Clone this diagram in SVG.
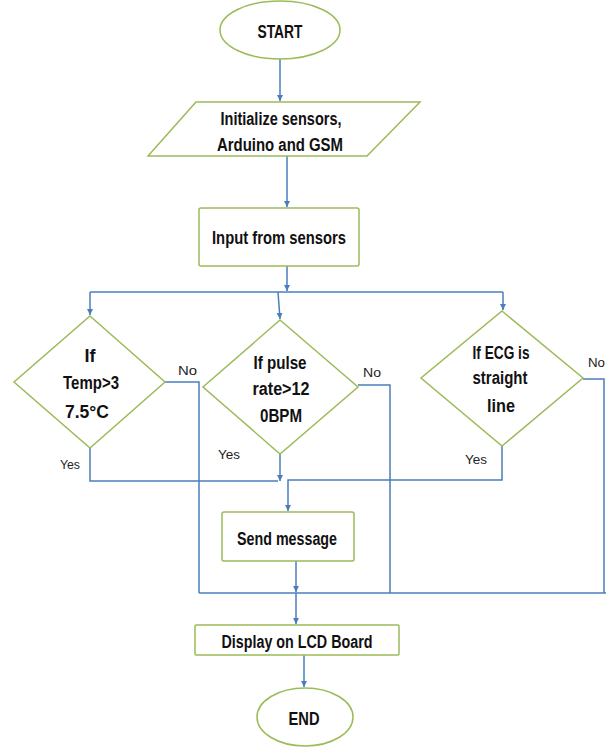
<svg xmlns="http://www.w3.org/2000/svg" width="606" height="747" viewBox="0 0 606 747">
<defs>
<marker id="ah" markerWidth="7" markerHeight="7" refX="6" refY="3.5" orient="auto" markerUnits="userSpaceOnUse">
<path d="M0,0.5 L6,3.5 L0,6.5 z" fill="#4a7ebb"/>
</marker>
<style>
.shape{fill:#fff;stroke:#9bbb59;stroke-width:1.5}
.t{font-family:"Liberation Sans",Arial,sans-serif;font-weight:bold;font-size:18px;fill:#111;text-anchor:middle}
.l{font-family:"Liberation Sans",Arial,sans-serif;font-size:12px;fill:#222;text-anchor:start}
.c{fill:none;stroke:#4a7ebb;stroke-width:1.5}
.a{marker-end:url(#ah)}
</style>
</defs>
<rect width="606" height="747" fill="#fff"/>
<g id="connectors">
<path class="c a" d="M280,59 V101"/>
<path class="c a" d="M287,156 V207"/>
<path class="c a" d="M287,266 V291"/>
<path class="c" d="M90,292 H503"/>
<path class="c a" d="M90,292 V315"/>
<path class="c a" d="M278,292 L280,319"/>
<path class="c a" d="M503,292 V310"/>
<path class="c" d="M165,382 H199 V593"/>
<path class="c" d="M358,385 H390 V593"/>
<path class="c" d="M583,379 H604 V593"/>
<path class="c" d="M199,593 H606"/>
<path class="c" d="M90,448 V481 H278"/>
<path class="c a" d="M280,454 V481"/>
<path class="c a" d="M502,446 V480 H288 V511"/>
<path class="c a" d="M296,561 V592"/>
<path class="c a" d="M296,593 V624"/>
<path class="c a" d="M304,655 V687"/>
</g>
<g id="start">
<ellipse class="shape" cx="280" cy="30" rx="60" ry="29"/>
<text class="t" x="280" y="38" textLength="45" lengthAdjust="spacingAndGlyphs">START</text>
</g>
<g id="init">
<polygon class="shape" points="196,102 420,102 367,156 148,156"/>
<text class="t" x="281" y="125" textLength="121" lengthAdjust="spacingAndGlyphs">Initialize sensors,</text>
<text class="t" x="280" y="151" textLength="126" lengthAdjust="spacingAndGlyphs">Arduino and GSM</text>
</g>
<g id="input">
<rect class="shape" x="199" y="208" width="160" height="58" rx="2"/>
<text class="t" x="279" y="244" textLength="134" lengthAdjust="spacingAndGlyphs">Input from sensors</text>
</g>
<g id="temp">
<polygon class="shape" points="90,316 165,382 90,448 14,382"/>
<text class="t" x="90" y="362">If</text>
<text class="t" x="91" y="389" textLength="56" lengthAdjust="spacingAndGlyphs">Temp&gt;3</text>
<text class="t" x="87" y="418" textLength="44" lengthAdjust="spacingAndGlyphs">7.5°C</text>
<text class="l" x="178" y="375" textLength="19" lengthAdjust="spacingAndGlyphs">No</text>
<text class="l" x="60" y="469" textLength="20" lengthAdjust="spacingAndGlyphs">Yes</text>
</g>
<g id="pulse">
<polygon class="shape" points="280,320 358,387 280,454 203,387"/>
<text class="t" x="280" y="369" textLength="53" lengthAdjust="spacingAndGlyphs">If pulse</text>
<text class="t" x="281" y="395" textLength="57" lengthAdjust="spacingAndGlyphs">rate&gt;12</text>
<text class="t" x="281" y="422" textLength="42" lengthAdjust="spacingAndGlyphs">0BPM</text>
<text class="l" x="363" y="377" textLength="18" lengthAdjust="spacingAndGlyphs">No</text>
<text class="l" x="218" y="459" textLength="22" lengthAdjust="spacingAndGlyphs">Yes</text>
</g>
<g id="ecg">
<polygon class="shape" points="502,311 583,378 502,446 421,378"/>
<text class="t" x="501" y="359" textLength="57" lengthAdjust="spacingAndGlyphs">If ECG is</text>
<text class="t" x="500" y="384" textLength="55" lengthAdjust="spacingAndGlyphs">straight</text>
<text class="t" x="501" y="412" textLength="28" lengthAdjust="spacingAndGlyphs">line</text>
<text class="l" x="588" y="367" textLength="17" lengthAdjust="spacingAndGlyphs">No</text>
<text class="l" x="465" y="464" textLength="22" lengthAdjust="spacingAndGlyphs">Yes</text>
</g>
<g id="send">
<rect class="shape" x="222" y="512" width="132" height="49" rx="2"/>
<text class="t" x="287" y="545" textLength="100" lengthAdjust="spacingAndGlyphs">Send message</text>
</g>
<g id="display">
<rect class="shape" x="195" y="625" width="204" height="30" rx="1"/>
<text class="t" x="297" y="648" textLength="151" lengthAdjust="spacingAndGlyphs">Display on LCD Board</text>
</g>
<g id="end">
<ellipse class="shape" cx="305" cy="717" rx="48" ry="29"/>
<text class="t" x="304" y="725" textLength="31" lengthAdjust="spacingAndGlyphs">END</text>
</g>
</svg>
